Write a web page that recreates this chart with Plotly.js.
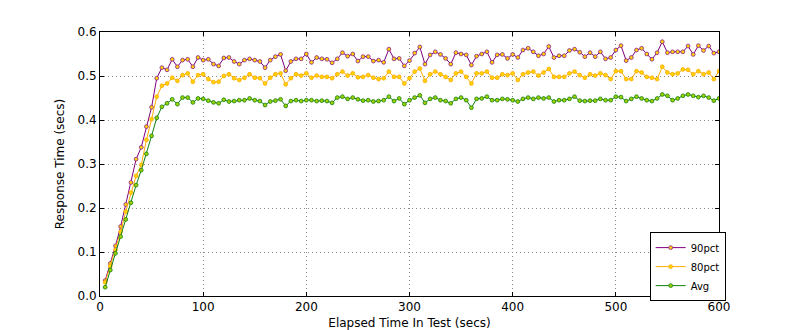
<!DOCTYPE html>
<html>
<head>
<meta charset="utf-8">
<script src="https://cdn.plot.ly/plotly-3.0.1.min.js"></script>
<style>html,body{margin:0;padding:0;background:#fff;}#chart{width:800px;height:330px;}</style>
</head>
<body>
<div id="chart"></div>
<script>
var elapsed = [5,10,15,20,25,30,35,40,45,50,55,60,65,70,75,80,85,90,95,100,105,110,115,120,
125,130,135,140,145,150,155,160,165,170,175,180,185,190,195,200,205,210,
215,220,225,230,235,240,245,250,255,260,265,270,275,280,285,290,295,300,305,310,
315,320,325,330,335,340,345,350,355,360,365,370,375,380,385,390,395,400,
405,410,415,420,425,430,435,440,445,450,455,460,465,470,475,480,485,490,495,
500,505,510,515,520,525,530,535,540,545,550,555,560,565,570,575,580,585,590,595,600];

var pct90 = [0.035,0.074,0.114,0.158,0.208,0.258,0.311,0.338,0.385,0.429,0.495,0.519,0.514,0.538,0.521,0.536,0.538,0.521,0.542,0.536,0.538,0.527,0.523,0.541,
0.542,0.533,0.527,0.536,0.539,0.536,0.533,0.519,0.536,0.544,0.549,0.512,0.533,0.539,0.539,0.550,0.531,0.542,
0.539,0.538,0.530,0.539,0.553,0.545,0.550,0.534,0.544,0.544,0.534,0.536,0.531,0.561,0.539,0.540,0.523,0.535,0.552,0.566,
0.527,0.548,0.555,0.549,0.540,0.527,0.553,0.550,0.548,0.525,0.545,0.550,0.555,0.531,0.548,0.549,0.540,0.549,
0.542,0.559,0.563,0.555,0.546,0.550,0.567,0.542,0.546,0.546,0.558,0.561,0.554,0.544,0.553,0.544,0.555,0.539,0.542,
0.559,0.569,0.535,0.542,0.559,0.563,0.550,0.538,0.553,0.578,0.553,0.555,0.555,0.555,0.568,0.549,0.569,0.558,0.568,0.552,0.555];

var pct80 = [0.031,0.068,0.105,0.146,0.192,0.235,0.273,0.298,0.355,0.402,0.453,0.478,0.483,0.496,0.489,0.502,0.506,0.487,0.502,0.504,0.493,0.486,0.487,0.500,
0.504,0.495,0.491,0.496,0.504,0.496,0.495,0.483,0.496,0.504,0.506,0.481,0.495,0.504,0.501,0.506,0.496,0.501,
0.498,0.498,0.495,0.504,0.510,0.501,0.506,0.497,0.498,0.502,0.496,0.493,0.495,0.510,0.498,0.498,0.483,0.495,0.510,0.517,
0.489,0.504,0.510,0.504,0.498,0.491,0.506,0.510,0.498,0.483,0.506,0.506,0.510,0.496,0.496,0.504,0.502,0.506,
0.491,0.504,0.508,0.510,0.501,0.508,0.516,0.498,0.498,0.498,0.506,0.510,0.502,0.496,0.504,0.501,0.506,0.502,0.493,
0.511,0.511,0.493,0.493,0.511,0.508,0.498,0.496,0.493,0.521,0.508,0.504,0.506,0.515,0.514,0.504,0.511,0.504,0.508,0.493,0.511];

var avg = [0.020,0.059,0.097,0.135,0.174,0.212,0.252,0.286,0.323,0.364,0.405,0.430,0.438,0.447,0.436,0.451,0.451,0.440,0.449,0.448,0.444,0.440,0.438,0.446,
0.442,0.443,0.445,0.445,0.449,0.445,0.443,0.434,0.442,0.444,0.447,0.432,0.443,0.445,0.443,0.445,0.445,0.443,
0.444,0.443,0.439,0.451,0.453,0.448,0.451,0.447,0.444,0.445,0.442,0.443,0.445,0.453,0.443,0.449,0.436,0.445,0.451,0.456,
0.439,0.448,0.451,0.445,0.443,0.438,0.448,0.451,0.445,0.428,0.448,0.449,0.453,0.445,0.445,0.448,0.447,0.445,
0.442,0.448,0.451,0.448,0.451,0.449,0.451,0.442,0.445,0.445,0.448,0.453,0.444,0.443,0.444,0.444,0.448,0.445,0.445,
0.453,0.452,0.443,0.448,0.453,0.449,0.445,0.443,0.449,0.458,0.455,0.445,0.449,0.455,0.458,0.455,0.452,0.455,0.451,0.444,0.449];

var seriesNames = ['90pct', '80pct', 'Avg'];
var xTicks = [0,100,200,300,400,500,600];
var yTicks = [0.0,0.1,0.2,0.3,0.4,0.5,0.6];

function mk(name, y, lineColor, fill, edge) {
  return {
    type: 'scatter', mode: 'lines+markers', name: name, x: elapsed, y: y,
    line: {color: lineColor, width: 1},
    marker: {symbol: 'circle', size: 3.8, color: fill, line: {color: edge, width: 0.8}}
  };
}

var traces = [
  mk(seriesNames[0], pct90, '#800080', '#ffd700', '#8b1a8b'),
  mk(seriesNames[1], pct80, '#ffae00', '#ffd700', '#ffa500'),
  mk(seriesNames[2], avg, '#108010', '#a0d000', '#108010')
];

var font = {family: 'DejaVu Sans, sans-serif', size: 12, color: '#000'};
var axisCommon = {
  showline: true, linecolor: '#000', linewidth: 1, mirror: 'ticks',
  ticks: 'inside', ticklen: 4, tickwidth: 1, tickcolor: '#000',
  showgrid: true, gridcolor: '#888', griddash: '1px,3px', gridwidth: 1,
  zeroline: false, tickfont: {family: 'DejaVu Sans, sans-serif', size: 12, color: '#000'}
};

var layout = {
  width: 800, height: 330,
  margin: {l: 100, r: 81, t: 32, b: 34},
  paper_bgcolor: '#fff', plot_bgcolor: '#fff',
  font: font,
  showlegend: true,
  xaxis: Object.assign({}, axisCommon, {
    range: [0, 600], tickvals: xTicks, ticktext: xTicks.map(String),
    title: {text: 'Elapsed Time In Test (secs)', font: font, standoff: 6}
  }),
  yaxis: Object.assign({}, axisCommon, {
    range: [0, 0.6], tickvals: yTicks, ticktext: yTicks.map(function(v){return v.toFixed(1);}),
    title: {text: 'Response Time (secs)', font: font, standoff: 10}
  }),
  legend: {
    x: 0.888, y: 0.242, xanchor: 'left', yanchor: 'top',
    bgcolor: '#fff', bordercolor: '#000', borderwidth: 1,
    font: {family: 'DejaVu Sans, sans-serif', size: 10, color: '#000'},
    itemwidth: 30, tracegroupgap: 0
  }
};

Plotly.newPlot('chart', traces, layout, {displayModeBar: false, staticPlot: true});
</script>
</body>
</html>
